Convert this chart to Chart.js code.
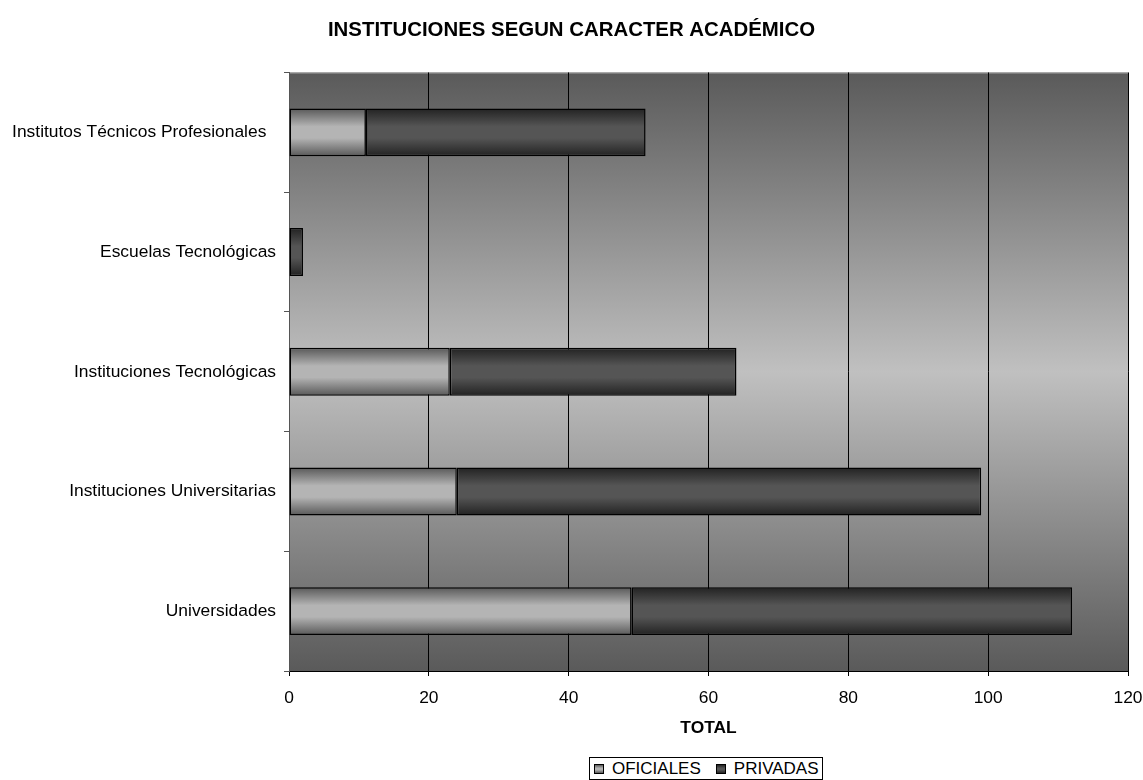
<!DOCTYPE html>
<html>
<head>
<meta charset="utf-8">
<script src="https://cdn.jsdelivr.net/npm/chart.js@4/dist/chart.umd.min.js"></script>
<style>
  html, body { margin: 0; padding: 0; background: #ffffff; }
  #wrap { position: relative; width: 1143px; height: 780px; }
  #legend {
    position: absolute; left: 589px; top: 757px; height: 23px;
    border: 1px solid #000; background: #fff; box-sizing: border-box;
    display: flex; align-items: center; padding: 0 3px 0 4px;
    font-family: "Liberation Sans", Arial, sans-serif; font-size: 17px; color: #000; white-space: nowrap;
  }
  .lg-item { display: flex; align-items: center; margin-right: 15px; }
  .lg-item:last-child { margin-right: 0; }
  .lg-box { width: 8px; height: 8px; border: 1px solid #000; margin-right: 8px; }
</style>
</head>
<body>
<div id="wrap">
  <canvas id="c" width="1143" height="780"></canvas>
  <div id="legend"></div>
</div>
<script>
const categories = [
  "Institutos Técnicos Profesionales  ",
  "Escuelas Tecnológicas",
  "Instituciones Tecnológicas",
  "Instituciones Universitarias",
  "Universidades"
];
const oficiales = [11, 0, 23, 24, 49];
const privadas  = [40, 2, 41, 75, 63];
const xTicks = [0, 20, 40, 60, 80, 100, 120];
const seriesNames = ["OFICIALES", "PRIVADAS"];
const chartTitle = "INSTITUCIONES SEGUN CARACTER ACADÉMICO";
const axisTitle = "TOTAL";

const FONT = "'Liberation Sans', Arial, sans-serif";
const CAT_PCT = 0.4;

function barGradient(ctx, edge, mid) {
  const chart = ctx.chart;
  const area = chart.chartArea;
  const ys = chart.scales && chart.scales.y;
  if (!area || !ys || ctx.dataIndex === undefined) return mid;
  const yc = ys.getPixelForValue(ctx.dataIndex);
  const h = (area.bottom - area.top) / categories.length * CAT_PCT;
  const g = chart.ctx.createLinearGradient(0, yc - h / 2, 0, yc + h / 2);
  g.addColorStop(0, edge);
  g.addColorStop(0.38, mid);
  g.addColorStop(0.62, mid);
  g.addColorStop(1, edge);
  return g;
}

const bgPlugin = {
  id: 'plotBg',
  beforeDraw(chart) {
    const {ctx, chartArea: a} = chart;
    const g = ctx.createLinearGradient(0, a.top, 0, a.bottom);
    g.addColorStop(0, '#5a5a5a');
    g.addColorStop(0.5, '#c0c0c0');
    g.addColorStop(1, '#5a5a5a');
    ctx.save();
    ctx.fillStyle = g;
    ctx.fillRect(a.left, a.top, a.right - a.left, a.bottom - a.top);
    ctx.strokeStyle = '#a8a8a8';
    ctx.lineWidth = 1;
    ctx.beginPath();
    ctx.moveTo(a.left, a.top + 0.5);
    ctx.lineTo(a.right + 0.5, a.top + 0.5);
    ctx.lineTo(a.right + 0.5, a.bottom);
    ctx.stroke();
    ctx.restore();
  }
};

const chart = new Chart(document.getElementById('c'), {
  type: 'bar',
  data: {
    labels: categories,
    datasets: [
      {
        label: seriesNames[0],
        data: oficiales,
        backgroundColor: (ctx) => barGradient(ctx, '#585858', '#b4b4b4'),
        borderColor: '#000',
        borderWidth: 1.5,
        borderSkipped: false,
        categoryPercentage: CAT_PCT,
        barPercentage: 1
      },
      {
        label: seriesNames[1],
        data: privadas,
        backgroundColor: (ctx) => barGradient(ctx, '#222222', '#555555'),
        borderColor: '#000',
        borderWidth: 1.5,
        borderSkipped: false,
        categoryPercentage: CAT_PCT,
        barPercentage: 1
      }
    ]
  },
  options: {
    indexAxis: 'y',
    responsive: false,
    animation: false,
    devicePixelRatio: 1,
    layout: { padding: { left: 0, right: 0, top: 0, bottom: 40 } },
    plugins: {
      legend: { display: false },
      tooltip: { enabled: false },
      title: {
        display: true,
        text: chartTitle,
        color: '#000',
        font: { family: FONT, size: 20.4, weight: 'bold' },
        padding: { top: 18, bottom: 30 }
      }
    },
    scales: {
      x: {
        stacked: true,
        min: 0,
        max: 120,
        afterBuildTicks(scale) { scale.ticks = xTicks.map(v => ({ value: v })); },
        afterFit(scale) {
          scale.height = 780 - 40 - 671;
          scale.paddingRight = 15;
          scale.paddingLeft = 0;
        },
        grid: {
          color: '#000',
          lineWidth: 1,
          drawTicks: true,
          tickLength: 5,
          tickColor: '#000'
        },
        border: { color: '#000', width: 1 },
        ticks: {
          color: '#000',
          padding: 12,
          font: { family: FONT, size: 17.4 }
        },
        title: {
          display: true,
          text: axisTitle,
          color: '#000',
          font: { family: FONT, size: 17.4, weight: 'bold' },
          padding: { top: 0, bottom: 1 }
        }
      },
      y: {
        stacked: true,
        afterFit(scale) { scale.width = 289; },
        grid: {
          offset: true,
          drawOnChartArea: false,
          drawTicks: true,
          tickLength: 5,
          tickColor: '#555'
        },
        border: { color: '#555', width: 1 },
        ticks: {
          color: '#000',
          padding: 8,
          font: { family: FONT, size: 17.4 }
        }
      }
    }
  },
  plugins: [bgPlugin]
});

// legend built from the chart datasets
const legendEl = document.getElementById('legend');
const swatch = [
  'linear-gradient(#585858, #b4b4b4 40%, #b4b4b4 60%, #585858)',
  'linear-gradient(#222, #555 40%, #555 60%, #222)'
];
chart.data.datasets.forEach((ds, i) => {
  const item = document.createElement('div');
  item.className = 'lg-item';
  const box = document.createElement('span');
  box.className = 'lg-box';
  box.style.background = swatch[i];
  const txt = document.createElement('span');
  txt.textContent = ds.label;
  item.appendChild(box);
  item.appendChild(txt);
  legendEl.appendChild(item);
});
</script>
</body>
</html>
